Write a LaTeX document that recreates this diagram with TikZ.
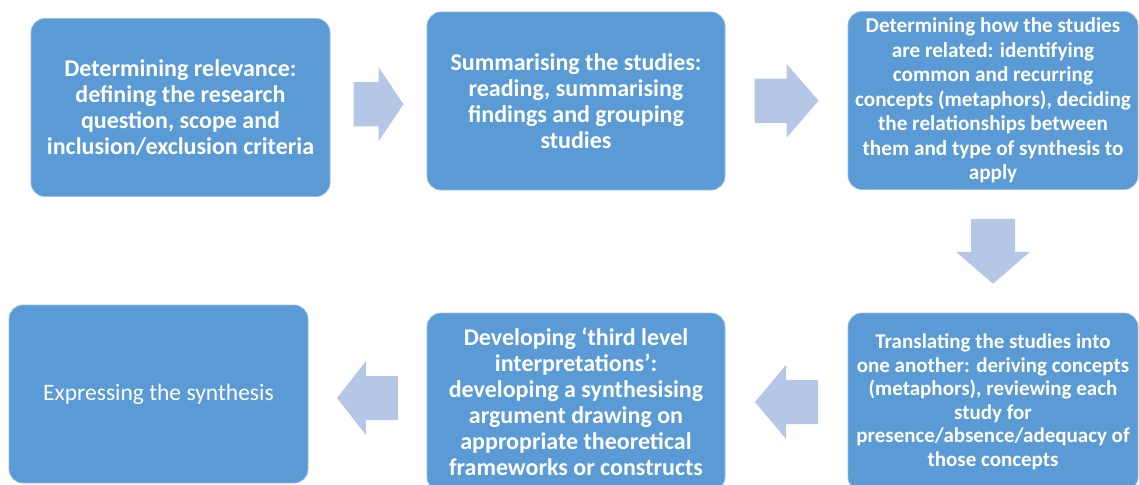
\documentclass[tikz,border=0pt]{standalone}
\usepackage{fontspec}
\setmainfont{Carlito}
\usepackage{tikz}
\usetikzlibrary{calc}
\usetikzlibrary{positioning}
\definecolor{boxblue}{RGB}{91,155,213}
\definecolor{boxedge}{RGB}{150,190,230}
\definecolor{arrowblue}{RGB}{180,199,231}
\tikzset{box/.style={rectangle,rounded corners=14pt,fill=boxblue,draw=boxedge,line width=0.8pt,
                     text=white,align=center,inner sep=0pt,minimum width=299pt,minimum height=178pt,
                     font=\bfseries\fontsize{24}{26}\selectfont},
         pics/blockarrow/.style 2 args={code={
             \fill[arrowblue] ({-#1/2},-22) -- ({#1/2-#2},-22) -- ({#1/2-#2},-37) -- ({#1/2},0)
                 -- ({#1/2-#2},37) -- ({#1/2-#2},22) -- ({-#1/2},22) -- cycle;}}}

\begin{document}
\begin{tikzpicture}[x=1pt,y=-1pt]
            \useasboundingbox (0,0) rectangle (1139,484);
            \node[box] (relev) at (180.5,107.5) {Determining relevance:\\defining the research\\question, scope and\\inclusion/exclusion criteria};
            \node[box,minimum width=298pt] (summ) at (576,101) {Summarising the studies:\\reading, summarising\\findings and grouping\\studies};
            \node[box,minimum width=290pt,font=\bfseries\fontsize{21.2}{24.5}\selectfont] (relat) at (993,100.5) {Determining how the studies\\are related: identifying\\common and recurring\\concepts (metaphors), deciding\\the relationships between\\them and type of synthesis to\\apply};
            \node[box,minimum width=290pt,font=\bfseries\fontsize{21}{23.5}\selectfont] (transl) at (993,402) {Translating the studies into\\one another: deriving concepts\\(metaphors), reviewing each\\study for\\presence/absence/adequacy of\\those concepts};
            \node[box,minimum width=298pt] (devel) at (576,402) {Developing `third level\\interpretations':\\developing a synthesising\\argument drawing on\\appropriate theoretical\\frameworks or constructs};
            \node[box,font=\fontsize{23.5}{26}\selectfont] (expr) at (158.5,394) {Expressing the synthesis};
            \path ($(relev.east)!.5!(summ.west)$) pic {blockarrow={50}{25}};
            \path ($(summ.east)!.5!(relat.west)$) pic {blockarrow={64}{32}};
            \path ($(relat.south)!.5!(transl.north)$) pic[rotate=-90] {blockarrow={65}{32}};
            \path ($(transl.west)!.5!(devel.east)$) pic[rotate=180] {blockarrow={63}{31}};
            \path ($(devel.west)!.5!(expr.east)$) pic[rotate=180] {blockarrow={61}{29}};
        \end{tikzpicture}
\end{document}
